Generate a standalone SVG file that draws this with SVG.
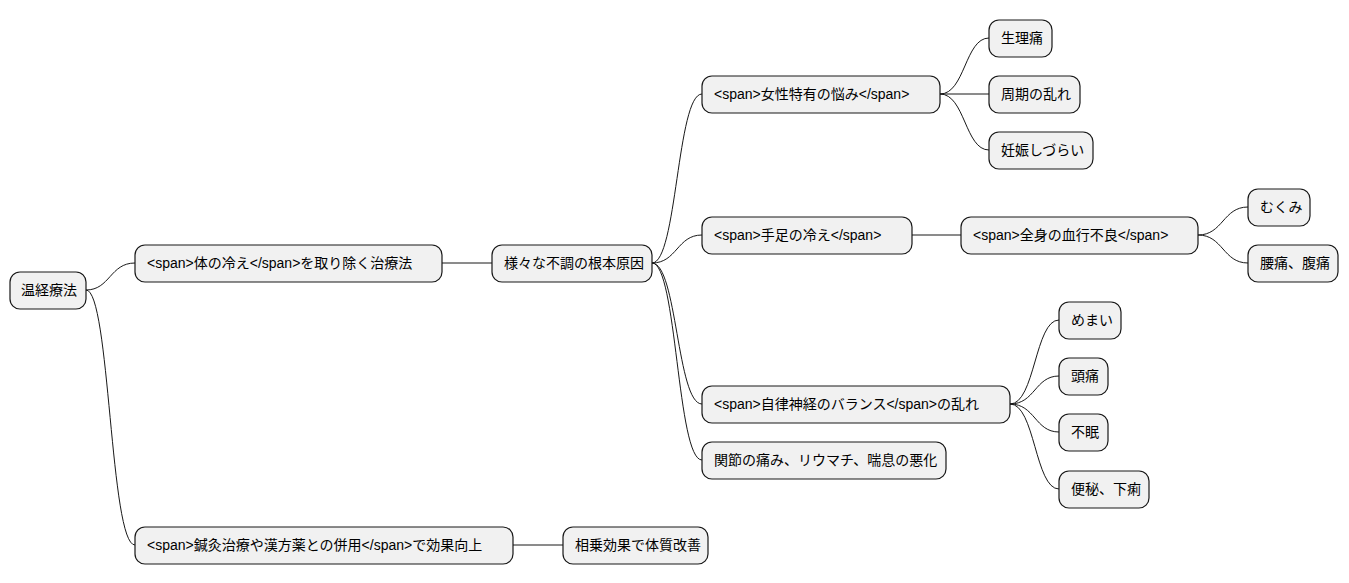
<svg xmlns="http://www.w3.org/2000/svg" width="1349" height="583" viewBox="0 0 1349 583">
<style>
.n rect{fill:#f1f1f1;stroke:#181818;stroke-width:1.2}
.n text{font-family:"Liberation Sans","Noto Sans CJK JP",sans-serif;font-size:14px;fill:#000}
#c path{fill:none;stroke:#181818;stroke-width:1}
</style>
<rect width="1349" height="583" fill="#fff"/>
<g id="c">
<path d="M86 290 C110 290 110 263 135 263"/>
<path d="M86 290 C110 290 110 545 135 545"/>
<path d="M442 263 L492 263"/>
<path d="M513 545 L563 545"/>
<path d="M652 263 C677 263 677 94 702 94"/>
<path d="M652 263 C677 263 677 235 702 235"/>
<path d="M652 263 C677 263 677 404 702 404"/>
<path d="M652 263 C677 263 677 460 702 460"/>
<path d="M940 94 C965 94 965 38 989 38"/>
<path d="M940 94 L989 94"/>
<path d="M940 94 C965 94 965 150 989 150"/>
<path d="M912 235 L961 235"/>
<path d="M1198 235 C1223 235 1223 207 1248 207"/>
<path d="M1198 235 C1223 235 1223 263 1248 263"/>
<path d="M1010 404 C1035 404 1035 320 1059 320"/>
<path d="M1010 404 C1035 404 1035 376 1059 376"/>
<path d="M1010 404 C1035 404 1035 432 1059 432"/>
<path d="M1010 404 C1035 404 1035 489 1059 489"/>
</g>
<g id="n1" class="n"><rect x="10" y="272" width="76" height="37" rx="10"/><text x="21" y="295">温経療法</text></g>
<g id="n2" class="n"><rect x="135" y="245" width="307" height="37" rx="10"/><text x="147" y="268">&lt;span&gt;体の冷え&lt;/span&gt;を取り除く治療法</text></g>
<g id="n3" class="n"><rect x="492" y="245" width="160" height="37" rx="10"/><text x="504" y="268">様々な不調の根本原因</text></g>
<g id="n4" class="n"><rect x="702" y="76" width="238" height="37" rx="10"/><text x="714" y="99">&lt;span&gt;女性特有の悩み&lt;/span&gt;</text></g>
<g id="n5" class="n"><rect x="989" y="20" width="63" height="37" rx="10"/><text x="1001" y="43">生理痛</text></g>
<g id="n6" class="n"><rect x="989" y="76" width="91" height="37" rx="10"/><text x="1001" y="99">周期の乱れ</text></g>
<g id="n7" class="n"><rect x="989" y="132" width="104" height="37" rx="10"/><text x="1001" y="155">妊娠しづらい</text></g>
<g id="n8" class="n"><rect x="702" y="217" width="210" height="37" rx="10"/><text x="714" y="240">&lt;span&gt;手足の冷え&lt;/span&gt;</text></g>
<g id="n9" class="n"><rect x="961" y="217" width="237" height="37" rx="10"/><text x="973" y="240">&lt;span&gt;全身の血行不良&lt;/span&gt;</text></g>
<g id="n10" class="n"><rect x="1248" y="189" width="62" height="37" rx="10"/><text x="1260" y="212">むくみ</text></g>
<g id="n11" class="n"><rect x="1248" y="245" width="90" height="37" rx="10"/><text x="1260" y="268">腰痛、腹痛</text></g>
<g id="n12" class="n"><rect x="702" y="386" width="308" height="37" rx="10"/><text x="714" y="409">&lt;span&gt;自律神経のバランス&lt;/span&gt;の乱れ</text></g>
<g id="n13" class="n"><rect x="1059" y="302" width="62" height="37" rx="10"/><text x="1071" y="325">めまい</text></g>
<g id="n14" class="n"><rect x="1059" y="358" width="49" height="37" rx="10"/><text x="1071" y="381">頭痛</text></g>
<g id="n15" class="n"><rect x="1059" y="414" width="49" height="37" rx="10"/><text x="1071" y="437">不眠</text></g>
<g id="n16" class="n"><rect x="1059" y="471" width="90" height="37" rx="10"/><text x="1071" y="494">便秘、下痢</text></g>
<g id="n17" class="n"><rect x="702" y="442" width="244" height="37" rx="10"/><text x="714" y="465">関節の痛み、リウマチ、喘息の悪化</text></g>
<g id="n18" class="n"><rect x="135" y="527" width="378" height="37" rx="10"/><text x="147" y="550">&lt;span&gt;鍼灸治療や漢方薬との併用&lt;/span&gt;で効果向上</text></g>
<g id="n19" class="n"><rect x="563" y="527" width="145" height="37" rx="10"/><text x="575" y="550">相乗効果で体質改善</text></g>
</svg>
